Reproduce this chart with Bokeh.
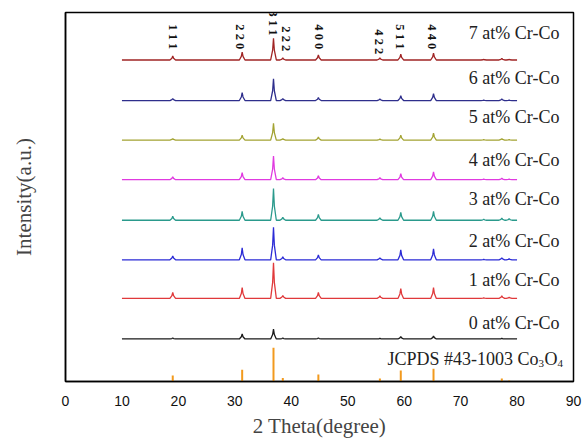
import math
from bokeh.plotting import figure
from bokeh.models import Range1d, FixedTicker
from bokeh.core.properties import value
from bokeh.embed import file_html
from bokeh.resources import INLINE

# ---- data ----
peak_pos = [19.0, 31.3, 36.85, 38.5, 44.8, 55.7, 59.4, 65.2, 74.1, 77.3, 78.6]
samples = ["0 at% Cr-Co", "1 at% Cr-Co", "2 at% Cr-Co", "3 at% Cr-Co",
           "4 at% Cr-Co", "5 at% Cr-Co", "6 at% Cr-Co", "7 at% Cr-Co"]
offsets = [43, 84, 123, 163, 204, 244, 284, 325]
label_y = [59, 103, 142, 184, 224, 267, 307, 352]
colors = ["#1a1a1a", "#e0393b", "#2b2bd6", "#2a9a8c",
          "#e03ae0", "#a3a332", "#2e2e8c", "#a02424"]
h_0 = [1, 5, 10, 1, 1, 0.5, 2.5, 3, 0, 0.5, 0]
h_1 = [6, 11, 36, 3, 6, 2.5, 10, 11, 0.5, 2.5, 1]
h_2 = [4, 12, 33, 3, 5, 2, 10, 11, 0.5, 2, 1]
h_3 = [4, 9, 32, 3, 6, 2.5, 8, 9, 1, 2, 1.5]
h_4 = [3, 7, 24, 2, 4, 2, 6, 8, 0.5, 1.5, 0.5]
h_5 = [1.5, 5, 17, 1.5, 3, 1, 5, 7, 0.5, 1.5, 0.5]
h_6 = [2, 8, 22, 2, 3, 1.5, 5, 7, 0.5, 1.5, 0.5]
h_7 = [4, 8, 22, 2, 5, 2, 6, 7, 0.5, 1.5, 0.5]
heights = [h_0, h_1, h_2, h_3, h_4, h_5, h_6, h_7]
scan_start, scan_end = 10, 80

jcpds_pos = [19.0, 31.3, 36.85, 38.5, 44.8, 55.7, 59.4, 65.2, 74.1, 77.3, 78.6]
jcpds_int = [6, 12, 34, 3.5, 7, 3, 11, 13, 0.5, 3, 1]

hkl = ["1 1 1", "2 2 0", "3 1 1", "2 2 2", "4 0 0", "4 2 2", "5 1 1", "4 4 0"]
hkl_x = [19.0, 31.0, 36.85, 39.0, 44.9, 55.6, 59.3, 65.0]
hkl_top = [361, 361, 375, 359, 361, 356, 361, 361]

x_ticks = [0, 10, 20, 30, 40, 50, 60, 70, 80, 90]

SERIF = "Liberation Serif"
SANS = "Liberation Sans"

p = figure(width=584, height=440, output_backend="svg", toolbar_location=None,
           x_range=Range1d(0, 90), y_range=Range1d(0, 373),
           min_border_left=65, min_border_right=11, min_border_top=12,
           min_border_bottom=55)
p.grid.visible = False
p.outline_line_color = "black"
p.outline_line_width = 1.5
p.background_fill_color = "white"
p.border_fill_color = "white"

# traces
for name, off, col, hs in zip(samples, offsets, colors, heights):
    xs = [scan_start]
    ys = [off]
    for pos, h in zip(peak_pos, hs):
        xs += [pos - 0.5, pos - 0.15, pos, pos + 0.15, pos + 0.5]
        ys += [off, off + 0.45 * h, off + h, off + 0.45 * h, off]
    xs.append(scan_end)
    ys.append(off)
    p.line(xs, ys, line_color=col, line_width=1.3)

# reference sticks
p.segment(x0=jcpds_pos, y0=[0] * len(jcpds_pos), x1=jcpds_pos, y1=jcpds_int,
          line_color="#f29a1e", line_width=2)

# sample labels
p.text(x=[87.5] * len(samples), y=label_y, text=samples, text_align="right",
       text_baseline="alphabetic", text_font=value(SERIF),
       text_font_size="18px", text_color="#222222")

# JCPDS label with subscripts
jx = 83.8
p.text(x=[jx], y=[23], text=["JCPDS #43-1003 Co"], text_align="right",
       text_baseline="alphabetic", text_font=value(SERIF),
       text_font_size="18px", text_color="#222222")
p.text(x=[jx, jx], y=[18, 18], text=["3", "4"], x_offset=[0, 19],
       text_align="left", text_baseline="alphabetic", text_font=value(SERIF),
       text_font_size="11px", text_color="#222222")
p.text(x=[jx], y=[23], text=["O"], x_offset=[6],
       text_align="left", text_baseline="alphabetic", text_font=value(SERIF),
       text_font_size="18px", text_color="#222222")

# hkl labels
p.text(x=hkl_x, y=hkl_top, text=hkl, angle=-math.pi / 2,
       text_align="left", text_baseline="middle", text_font=value(SERIF),
       text_font_size="12.5px", text_font_style="bold", text_color="#111111")

# axes
p.xaxis.ticker = FixedTicker(ticks=x_ticks)
p.xaxis.major_tick_line_color = None
p.xaxis.minor_tick_line_color = None
p.xaxis.axis_line_color = "black"
p.xaxis.axis_line_width = 1.5
p.xaxis.major_label_text_font = SANS
p.xaxis.major_label_text_font_size = "14px"
p.xaxis.major_label_text_color = "#111111"
p.xaxis.major_label_standoff = 8
p.xaxis.axis_label = "2 Theta(degree)"
p.xaxis.axis_label_text_font = SERIF
p.xaxis.axis_label_text_font_size = "21px"
p.xaxis.axis_label_text_font_style = "normal"
p.xaxis.axis_label_standoff = 5

p.yaxis.ticker = FixedTicker(ticks=[])
p.yaxis.major_tick_line_color = None
p.yaxis.minor_tick_line_color = None
p.yaxis.axis_line_color = "black"
p.yaxis.axis_line_width = 1.5
p.yaxis.axis_label = "Intensity(a.u.)"
p.yaxis.axis_label_text_font = SERIF
p.yaxis.axis_label_text_font_size = "21px"
p.yaxis.axis_label_text_font_style = "normal"
p.yaxis.axis_label_standoff = 30

open("out.html", "w").write(file_html(p, INLINE))
